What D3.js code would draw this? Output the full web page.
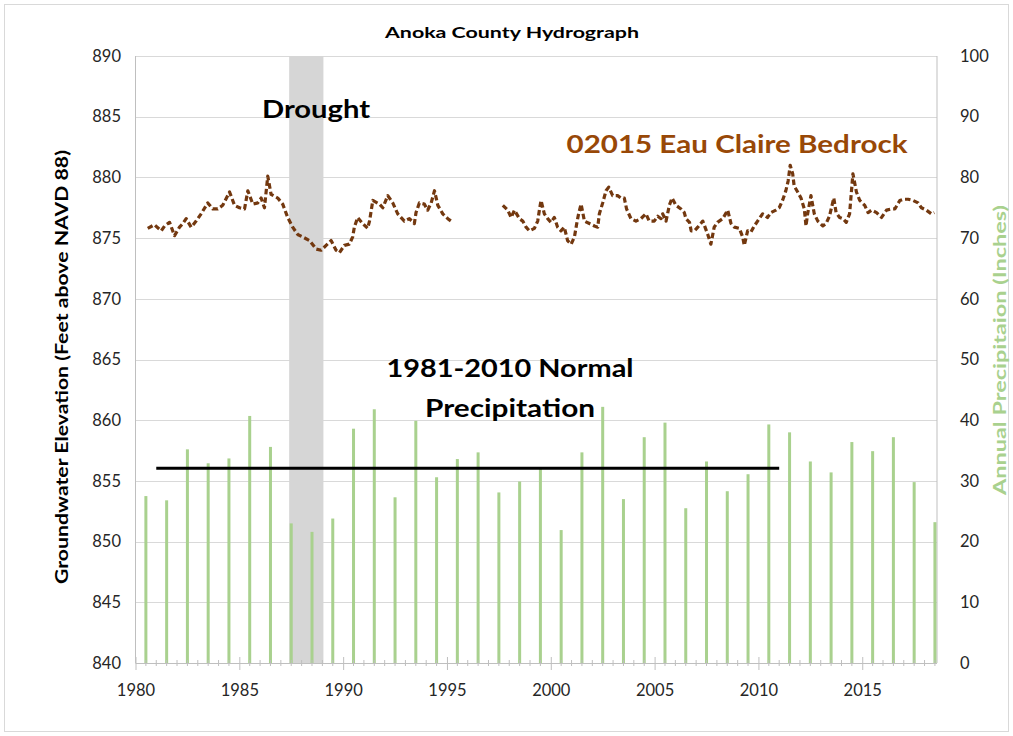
<!DOCTYPE html>
<html>
<head>
<meta charset="utf-8">
<script src="https://cdn.jsdelivr.net/npm/d3@7"></script>
<style>
  html, body { margin: 0; padding: 0; background: #fff; }
  svg { display: block; font-family: Lato, "Open Sans", sans-serif; }
</style>
</head>
<body>
<svg id="chart" width="1013" height="736"></svg>
<script>
// Annual precipitation (inches), one bar per year
const precipYears = [1980,1981,1982,1983,1984,1985,1986,1987,1988,1989,
  1990,1991,1992,1993,1994,1995,1996,1997,1998,1999,
  2000,2001,2002,2003,2004,2005,2006,2007,2008,2009,
  2010,2011,2012,2013,2014,2015,2016,2017,2018];
const precipInches = [27.5,26.8,35.2,32.9,33.7,40.7,35.6,23.0,21.6,23.8,
  38.6,41.8,27.3,39.9,30.6,33.6,34.7,28.1,29.9,32.1,
  21.9,34.7,42.2,27.0,37.2,39.6,25.5,33.2,28.3,31.1,
  39.3,38.0,33.2,31.4,36.4,34.9,37.2,29.8,23.2];

// Well 02015 (Eau Claire bedrock) water level, decimal year -> feet above NAVD 88
const wellDates = [1980.59,1980.91,1981.24,1981.40,1981.64,1981.88,1982.12,1982.28,1982.44,1982.68,
  1982.92,1983.16,1983.48,1983.72,1983.96,1984.20,1984.53,1984.77,1985.01,1985.25,
  1985.41,1985.65,1985.89,1986.05,1986.21,1986.37,1986.53,1986.85,1987.09,1987.33,
  1987.57,1987.81,1988.05,1988.38,1988.70,1988.94,1989.18,1989.42,1989.66,1989.82,
  1990.06,1990.30,1990.46,1990.54,1990.70,1990.94,1991.18,1991.27,1991.43,1991.75,
  1991.91,1992.15,1992.39,1992.63,1992.95,1993.19,1993.43,1993.51,1993.67,1993.91,
  1994.07,1994.24,1994.40,1994.56,1994.80,1995.04,1995.20,1996.40,
  1997.69,1997.93,1998.09,1998.25,1998.49,1998.65,1998.81,1998.97,1999.21,1999.37,
  1999.45,1999.53,1999.69,1999.85,2000.01,2000.17,2000.33,2000.49,2000.65,2000.81,
  2000.98,2001.14,2001.25,2001.34,2001.46,2001.62,2001.86,2002.10,2002.26,2002.34,
  2002.50,2002.66,2002.79,2002.98,2003.22,2003.38,2003.54,2003.65,2003.86,2004.10,
  2004.34,2004.58,2004.74,2004.98,2005.15,2005.31,2005.39,2005.55,2005.71,2005.84,
  2006.03,2006.27,2006.43,2006.51,2006.68,2006.76,2006.92,2007.08,2007.32,2007.56,
  2007.71,2007.87,2008.03,2008.28,2008.52,2008.68,2008.84,2009.08,2009.24,2009.32,
  2009.48,2009.64,2009.80,2009.96,2010.20,2010.44,2010.60,2010.84,2011.00,2011.16,
  2011.32,2011.43,2011.53,2011.65,2011.72,2011.89,2012.05,2012.21,2012.29,2012.37,
  2012.53,2012.69,2012.86,2013.10,2013.26,2013.42,2013.63,2013.74,2013.91,2014.07,
  2014.23,2014.39,2014.55,2014.72,2014.88,2015.12,2015.28,2015.45,2015.69,2015.93,
  2016.17,2016.41,2016.57,2016.81,2016.97,2017.21,2017.45,2017.69,2017.85,2018.09,
  2018.33,2018.47];
const wellLevels = [875.8,876.1,875.6,876.0,876.3,875.2,875.9,876.2,876.6,875.9,
  876.4,877.0,877.9,877.4,877.4,877.7,878.8,877.7,877.5,877.4,
  878.9,877.8,877.9,878.3,877.5,880.1,878.6,878.3,877.8,876.7,
  875.9,875.3,875.1,874.8,874.1,874.0,874.4,874.8,874.0,873.8,
  874.4,874.5,875.1,875.9,876.7,876.2,875.8,876.4,878.1,877.8,
  877.5,878.5,877.9,877.0,876.4,876.6,876.2,877.1,877.9,877.8,
  877.3,877.9,878.9,877.7,877.0,876.6,876.4,null,
  877.7,877.3,876.7,877.3,876.6,876.4,875.9,875.6,875.8,876.4,
  877.3,878.1,877.0,876.6,876.3,876.7,875.9,875.6,875.9,874.8,
  874.5,875.1,876.2,877.0,877.8,876.4,876.2,876.0,875.9,877.0,
  877.9,878.9,879.2,878.5,878.5,878.3,878.3,877.4,876.6,876.4,
  876.6,877.0,876.4,876.4,876.8,876.6,877.0,876.4,877.7,878.3,
  877.7,877.4,877.1,876.6,876.3,875.6,875.6,875.9,876.4,875.3,
  874.5,875.9,876.3,876.6,877.3,876.2,875.9,875.8,875.1,874.4,
  875.6,875.5,876.0,876.4,877.0,876.7,877.1,877.3,877.5,878.1,
  878.9,879.7,881.0,880.3,879.3,878.8,878.3,877.4,876.0,877.0,
  878.5,877.0,876.4,876.0,876.2,876.8,878.3,877.1,876.7,876.6,
  876.3,877.0,880.3,878.8,878.1,877.7,877.1,877.3,877.1,876.7,
  877.3,877.4,877.4,878.1,878.2,878.2,878.1,877.9,877.5,877.3,
  877.0,877.1];

// 1981-2010 normal annual precipitation and the drought period
const normalPeriod = [1981, 2011];
const normalInches = [32.1];
const droughtPeriod = [1987.4, 1989.05];

// Axis ticks
const elevationTicks = [840,845,850,855,860,865,870,875,880,885,890];
const precipTicks = [0,10,20,30,40,50,60,70,80,90,100];
const yearTicks = [1980,1985,1990,1995,2000,2005,2010,2015];

const svg = d3.select("#chart");
const plotLeft = 135.5, plotRight = 937, plotTop = 56, plotBottom = 663;

const x = d3.scaleLinear().domain([1980, 2018.6]).range([plotLeft, plotRight]);
const yElev = d3.scaleLinear().domain([840, 890]).range([plotBottom, plotTop]);
const yPrec = d3.scaleLinear().domain([0, 100]).range([plotBottom, plotTop]);

// outer frame
svg.append("rect").attr("x", 4.5).attr("y", 4.5).attr("width", 1004).attr("height", 727)
  .attr("fill", "#fff").attr("stroke", "#d9d9d9");

// title
svg.append("text").attr("x", 512).attr("y", 38).attr("text-anchor", "middle")
  .attr("font-weight", "bold").attr("font-size", 15.5).attr("fill", "#000")
  .attr("textLength", 254).attr("lengthAdjust", "spacingAndGlyphs")
  .text("Anoka County Hydrograph");

// horizontal gridlines
svg.append("g").selectAll("line").data(elevationTicks.slice(1)).join("line")
  .attr("x1", plotLeft).attr("x2", plotRight)
  .attr("y1", d => Math.round(yElev(d)) + 0.5).attr("y2", d => Math.round(yElev(d)) + 0.5)
  .attr("stroke", "#d9d9d9").attr("stroke-width", 1);

// drought band
svg.append("rect")
  .attr("x", x(droughtPeriod[0])).attr("width", x(droughtPeriod[1]) - x(droughtPeriod[0]))
  .attr("y", plotTop).attr("height", plotBottom - plotTop)
  .attr("fill", "#d6d6d6");

// axis lines
const axisColor = "#bfbfbf";
svg.append("line").attr("x1", plotLeft).attr("x2", plotLeft).attr("y1", plotTop).attr("y2", plotBottom)
  .attr("stroke", axisColor);
svg.append("line").attr("x1", plotRight).attr("x2", plotRight).attr("y1", plotTop).attr("y2", plotBottom)
  .attr("stroke", axisColor);

// precipitation bars
svg.append("g").selectAll("rect").data(precipYears).join("rect")
  .attr("x", (d) => x(d + 0.5) - 1.5)
  .attr("width", 3)
  .attr("y", (d, i) => yPrec(precipInches[i]))
  .attr("height", (d, i) => plotBottom - yPrec(precipInches[i]))
  .attr("fill", "#a9d18e");

// bottom axis with major and minor ticks
const xAxis = d3.axisBottom(x).tickValues(yearTicks).tickFormat(d3.format("d"))
  .tickSize(7).tickPadding(14);
const gx = svg.append("g").attr("transform", `translate(0,${plotBottom})`).call(xAxis);
gx.select(".domain").attr("stroke", axisColor).attr("d", `M${plotLeft},0.5H${plotRight}`);
gx.selectAll(".tick line").attr("stroke", axisColor).attr("y1", -6).attr("y2", 7);
gx.selectAll(".tick text").attr("font-size", 16.5).attr("fill", "#262626")
  .attr("font-family", "Lato, sans-serif");
const minorTicks = d3.range(1980.5, 2018.6, 0.5).filter(v => !yearTicks.includes(v));
svg.append("g").selectAll("line").data(minorTicks).join("line")
  .attr("x1", d => x(d)).attr("x2", d => x(d))
  .attr("y1", plotBottom - 3).attr("y2", plotBottom + 3)
  .attr("stroke", axisColor);

// normal precipitation reference line
svg.append("line")
  .attr("x1", x(normalPeriod[0])).attr("x2", x(normalPeriod[1]))
  .attr("y1", yPrec(normalInches[0])).attr("y2", yPrec(normalInches[0]))
  .attr("stroke", "#000").attr("stroke-width", 3);

// groundwater hydrograph
const wellPoints = wellDates.map((d, i) => [d, wellLevels[i]]);
const line = d3.line().defined(d => d[1] !== null)
  .x(d => x(d[0])).y(d => yElev(d[1]));
svg.append("path").datum(wellPoints)
  .attr("d", line)
  .attr("fill", "none")
  .attr("stroke", "#73380f")
  .attr("stroke-width", 3.2)
  .attr("stroke-dasharray", "5.5,3")
  .attr("stroke-linejoin", "round");

// left tick labels
svg.append("g").selectAll("text").data(elevationTicks).join("text")
  .attr("x", 121).attr("y", d => yElev(d)).attr("dy", "0.35em")
  .attr("text-anchor", "end").attr("font-size", 16.5).attr("fill", "#262626")
  .text(d => d);

// right tick labels
svg.append("g").selectAll("text").data(precipTicks).join("text")
  .attr("x", 960).attr("y", d => yPrec(d)).attr("dy", "0.35em")
  .attr("text-anchor", "start").attr("font-size", 16.5).attr("fill", "#262626")
  .text(d => d);

// axis titles
svg.append("text")
  .attr("transform", "translate(68,367) rotate(-90)")
  .attr("text-anchor", "middle").attr("font-weight", "bold").attr("font-size", 16.5)
  .attr("fill", "#000").attr("textLength", 434).attr("lengthAdjust", "spacingAndGlyphs")
  .text("Groundwater Elevation (Feet above NAVD 88)");
svg.append("text")
  .attr("transform", "translate(1006,350) rotate(-90)")
  .attr("text-anchor", "middle").attr("font-weight", "bold").attr("font-size", 16.5)
  .attr("fill", "#a9d18e").attr("textLength", 290).attr("lengthAdjust", "spacingAndGlyphs")
  .text("Annual Precipitaion (Inches)");

// annotations
function note(txt, cx, by, width, color) {
  svg.append("text").attr("x", cx).attr("y", by).attr("text-anchor", "middle")
    .attr("font-weight", "bold").attr("font-size", 25).attr("fill", color)
    .attr("textLength", width).attr("lengthAdjust", "spacingAndGlyphs")
    .text(txt);
}
note("Drought", 316, 118, 108, "#000");
note("02015 Eau Claire Bedrock", 737, 153, 341, "#984807");
note("1981-2010 Normal", 510, 377, 247, "#000");
note("Precipitation", 510, 417, 170, "#000");
</script>
</body>
</html>
